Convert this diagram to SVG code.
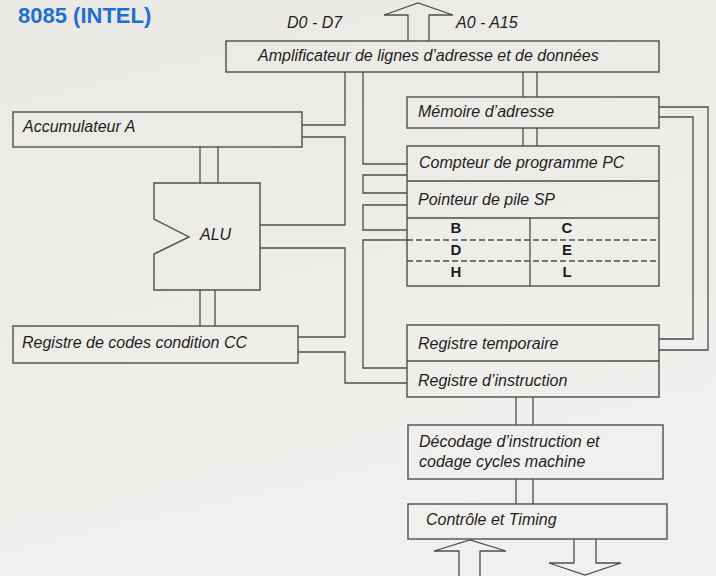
<svg xmlns="http://www.w3.org/2000/svg" width="716" height="576" viewBox="0 0 716 576">
<defs>
<linearGradient id="bg" x1="0" y1="0" x2="0.3" y2="1">
<stop offset="0" stop-color="#ebe9e5"/>
<stop offset="0.6" stop-color="#eeedea"/>
<stop offset="1" stop-color="#f1f0ee"/>
</linearGradient>
</defs>
<style>
.box{fill:none;stroke:#4d4d4d;stroke-width:1.4}
.ln{fill:none;stroke:#4d4d4d;stroke-width:1.3}
.dash{fill:none;stroke:#4d4d4d;stroke-width:1.3;stroke-dasharray:6 3}
.t{font-family:"Liberation Sans",Arial,sans-serif;font-style:italic;font-size:16px;fill:#1e1e1e}
.r{font-family:"Liberation Sans",Arial,sans-serif;font-weight:bold;font-size:15px;fill:#1e1e1e;text-anchor:middle}
.title{font-family:"Liberation Sans",Arial,sans-serif;font-weight:bold;font-size:22px;fill:#1d6fd3}
</style>
<rect x="0" y="0" width="716" height="576" fill="url(#bg)"/>
<text class="title" x="18" y="23">8085 (INTEL)</text>

<g id="connectors">
<polyline class="ln" points="345,72 345,125 302,125"/>
<polyline class="ln" points="302,137 345,137 345,225 260,225"/>
<polyline class="ln" points="260,248 345,248 345,337 298,337"/>
<polyline class="ln" points="298,352 345,352 345,383 407,383"/>
<polyline class="ln" points="363,72 363,164 407,164"/>
<polyline class="ln" points="407,175 363,175 363,193 407,193"/>
<polyline class="ln" points="407,205 363,205 363,230 407,230"/>
<polyline class="ln" points="407,240 363,240 363,368 407,368"/>
<polyline class="ln" points="659,107 708,107 708,350 659,350"/>
<polyline class="ln" points="659,117 693,117 693,339 659,339"/>
<line class="ln" x1="200" y1="147" x2="200" y2="183"/>
<line class="ln" x1="218" y1="147" x2="218" y2="183"/>
<line class="ln" x1="200" y1="290" x2="200" y2="326"/>
<line class="ln" x1="215" y1="290" x2="215" y2="326"/>
<line class="ln" x1="523" y1="72" x2="523" y2="97"/>
<line class="ln" x1="537" y1="72" x2="537" y2="97"/>
<line class="ln" x1="523" y1="128" x2="523" y2="146"/>
<line class="ln" x1="537" y1="128" x2="537" y2="146"/>
<line class="ln" x1="516" y1="397" x2="516" y2="425"/>
<line class="ln" x1="533" y1="397" x2="533" y2="425"/>
<line class="ln" x1="516" y1="479" x2="516" y2="504"/>
<line class="ln" x1="533" y1="479" x2="533" y2="504"/>
<polyline class="ln" points="408,41 408,15 384,15 418,3 453,15 429,15 429,41"/>
<polyline class="ln" points="459,577 459,551 434,551 470,540 506,551 480,551 480,577"/>
<polyline class="ln" points="574,539 574,563 549,563 585,575 621,563 596,563 596,539"/>
</g>

<g id="bus-labels">
<text class="t" x="287" y="28">D0 - D7</text>
<text class="t" x="456" y="28">A0 - A15</text>
</g>

<g id="amplificateur">
<rect class="box" x="226" y="41" width="433" height="31"/>
<text class="t" x="258" y="61">Amplificateur de lignes d’adresse et de données</text>
</g>

<g id="accumulateur">
<rect class="box" x="13" y="112" width="289" height="35"/>
<text class="t" x="23" y="132">Accumulateur A</text>
</g>

<g id="alu">
<polygon class="box" points="154,183 260,183 260,290 154,290 154,254 189,237 154,219"/>
<text class="t" x="200" y="240">ALU</text>
</g>

<g id="registre-cc">
<rect class="box" x="13" y="326" width="285" height="37"/>
<text class="t" x="22" y="348">Registre de codes condition CC</text>
</g>

<g id="memoire-adresse">
<rect class="box" x="407" y="97" width="252" height="31"/>
<text class="t" x="418" y="117">Mémoire d’adresse</text>
</g>

<g id="registres">
<rect class="box" x="407" y="146" width="252" height="140"/>
<line class="ln" x1="407" y1="181" x2="659" y2="181"/>
<line class="ln" x1="407" y1="218" x2="659" y2="218"/>
<line class="ln" x1="530" y1="218" x2="530" y2="286"/>
<line class="dash" x1="407" y1="240" x2="659" y2="240"/>
<line class="dash" x1="407" y1="261" x2="659" y2="261"/>
<text class="t" x="419" y="168">Compteur de programme PC</text>
<text class="t" x="418" y="205">Pointeur de pile SP</text>
<text class="r" x="456" y="233">B</text>
<text class="r" x="567" y="233">C</text>
<text class="r" x="456" y="255">D</text>
<text class="r" x="567" y="255">E</text>
<text class="r" x="456" y="277">H</text>
<text class="r" x="567" y="277">L</text>
</g>

<g id="registre-temp-instr">
<rect class="box" x="407" y="325" width="252" height="72"/>
<line class="ln" x1="407" y1="361" x2="659" y2="361"/>
<text class="t" x="418" y="349">Registre temporaire</text>
<text class="t" x="418" y="386">Registre d’instruction</text>
</g>

<g id="decodage">
<rect class="box" x="408" y="425" width="255" height="54"/>
<text class="t" x="419" y="447">Décodage d’instruction et</text>
<text class="t" x="419" y="467">codage cycles machine</text>
</g>

<g id="controle">
<rect class="box" x="408" y="504" width="259" height="35"/>
<text class="t" x="426" y="525">Contrôle et Timing</text>
</g>
</svg>
